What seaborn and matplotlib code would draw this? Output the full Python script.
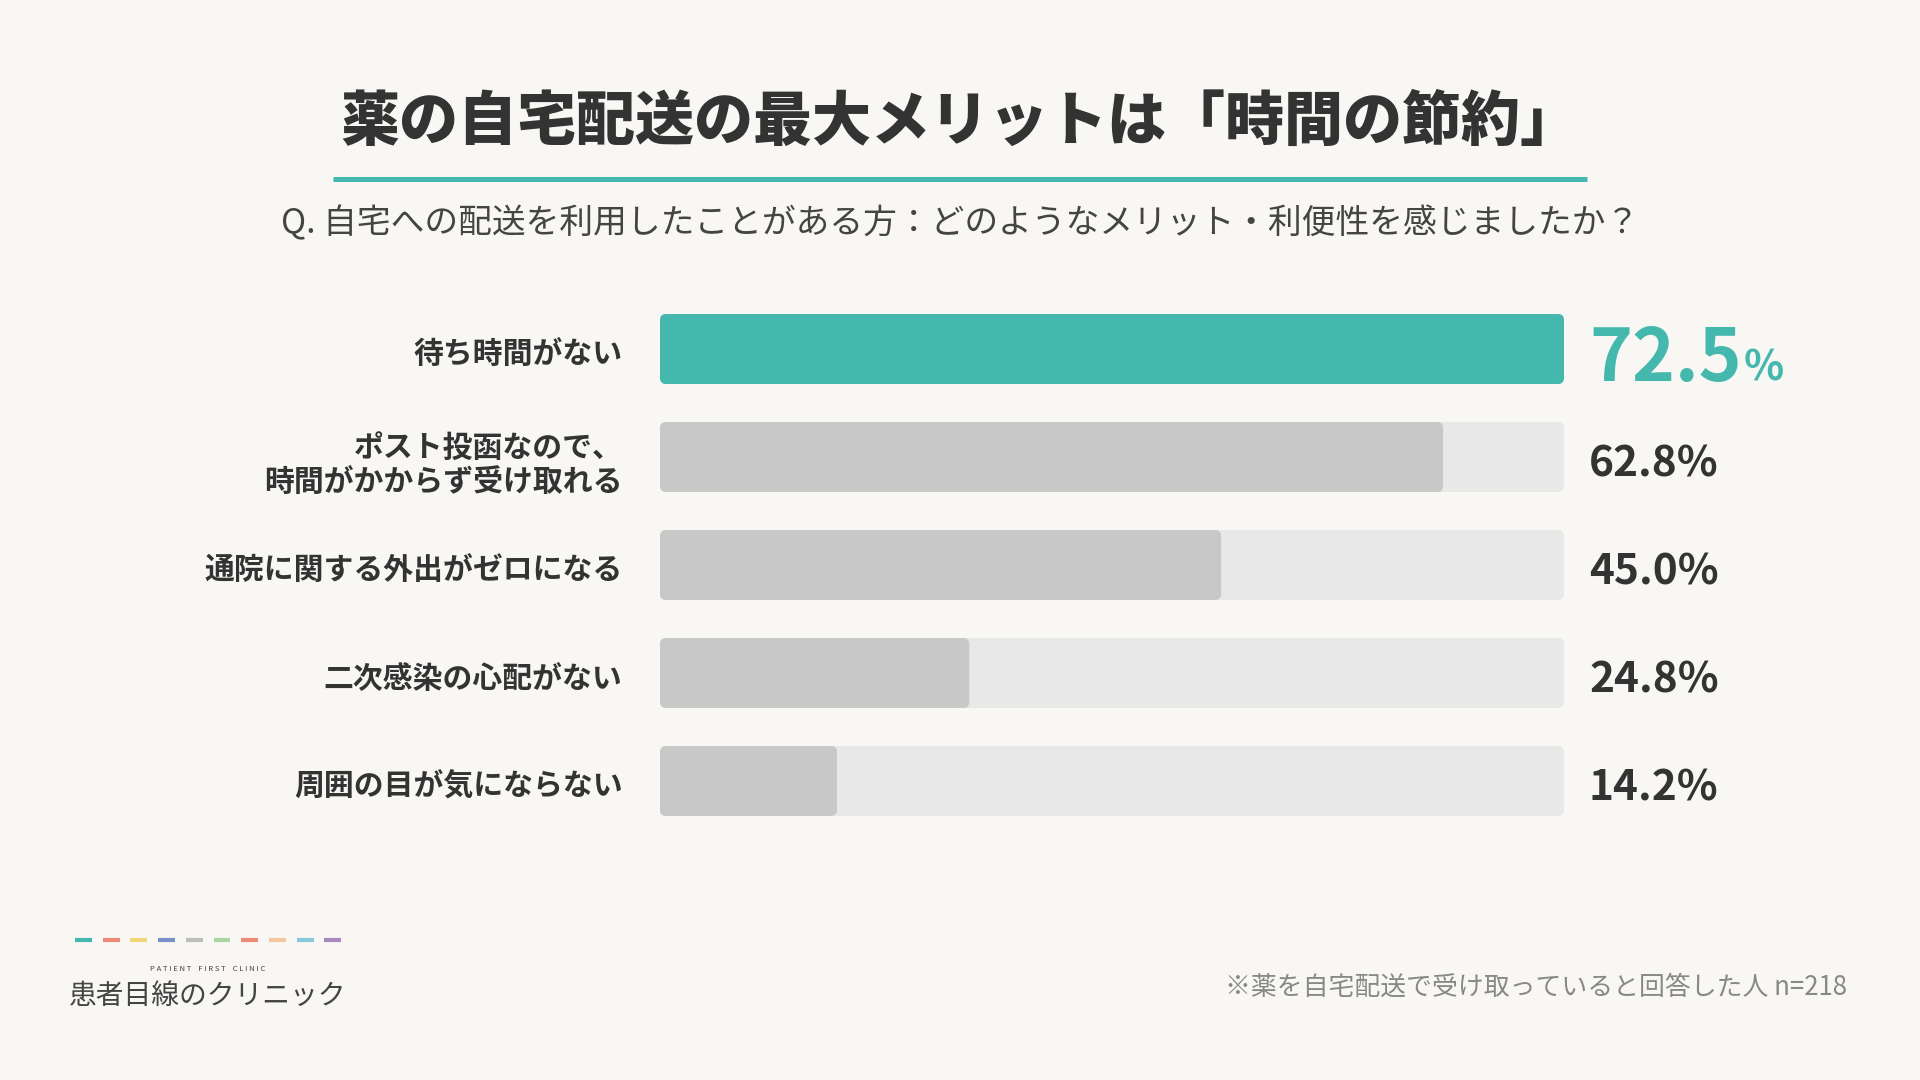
import matplotlib
matplotlib.use('Agg')
import matplotlib.pyplot as plt
import matplotlib.transforms as mtransforms
from matplotlib.patches import FancyBboxPatch
from matplotlib.lines import Line2D
import pandas as pd
import seaborn as sns

# chart data
categories = ['待ち時間がない',
              'ポスト投函なので、\n時間がかからず受け取れる',
              '通院に関する外出がゼロになる',
              '二次感染の心配がない',
              '周囲の目が気にならない']
values = [72.5, 62.8, 45.0, 24.8, 14.2]

title = '薬の自宅配送の最大メリットは「時間の節約」'
subtitle = 'Q. 自宅への配送を利用したことがある方：どのようなメリット・利便性を感じましたか？'
note = '※薬を自宅配送で受け取っていると回答した人 n=218'
logo_small = 'P A T I E N T    F I R S T    C L I N I C'
logo_name = '患者目線のクリニック'
logo_colors = ['#45B8AE', '#EE8A78', '#F0D678', '#7B8FC8', '#BDBDBD',
               '#A8D5A0', '#EE8A78', '#F5C6A0', '#88C8D8', '#A888C0']

BG = '#F9F7F4'
TEAL = '#45B8AE'
GRAY = '#C8C8C8'
TRACK = '#E8E8E8'
DARK = '#333333'

sns.set_theme(style='white')
plt.rcParams['font.family'] = ['Noto Sans CJK JP', 'DejaVu Sans']

df = pd.DataFrame({'item': categories, 'value': values})
df['track'] = max(values)

fig = plt.figure(figsize=(19.2, 10.8), dpi=100, facecolor=BG)
ax = fig.add_axes([660 / 1920, 1 - 835 / 1080, 904 / 1920, 540 / 1080])
ax.set_facecolor(BG)

# background track, then the value bars
sns.barplot(data=df, y='item', x='track', color=TRACK, width=0.648,
            saturation=1, errorbar=None, orient='h', ax=ax)
n_track = len(ax.patches)
bar_colors = [TEAL] + [GRAY] * (len(values) - 1)
sns.barplot(data=df, y='item', x='value', hue='item', palette=bar_colors,
            width=0.648, saturation=1, errorbar=None, orient='h',
            legend=False, ax=ax)

ax.set_xlim(0, max(values))
ax.set_ylim(len(values) - 0.5, -0.5)

# swap plain rectangles for rounded ones
px_x = ax.transData.transform((1, 0))[0] - ax.transData.transform((0, 0))[0]
px_y = abs(ax.transData.transform((0, 1))[1] - ax.transData.transform((0, 0))[1])
aspect = px_x / px_y
r = 6 / px_x
for k, p in enumerate(list(ax.patches)):
    x, y, w, h = p.get_x(), p.get_y(), p.get_width(), p.get_height()
    fc = p.get_facecolor()
    p.remove()
    rr = min(r, w / 2)
    ax.add_patch(FancyBboxPatch((x, y), w, h,
                                boxstyle=f'round,pad=0,rounding_size={rr}',
                                mutation_aspect=aspect, facecolor=fc,
                                edgecolor='none', zorder=1 if k < n_track else 2))

for s in ax.spines.values():
    s.set_visible(False)
ax.set_xlabel('')
ax.set_ylabel('')
ax.set_xticks([])
ax.tick_params(axis='y', length=0, pad=27)
shift = mtransforms.ScaledTranslation(0, -3 / 100, fig.dpi_scale_trans)
for lbl in ax.get_yticklabels():
    lbl.set_fontsize(21.5)
    lbl.set_fontweight('bold')
    lbl.set_color(DARK)
    lbl.set_linespacing(1.2)
    lbl.set_transform(lbl.get_transform() + shift)

# value labels
off = mtransforms.offset_copy(ax.transData, fig=fig, x=25, y=0, units='dots')
big = None
for i, v in enumerate(values):
    if i == 0:
        big = ax.text(max(values), i + 0.296, f'{v:.1f}', transform=off,
                      fontsize=52.5, fontweight='bold', color=TEAL, va='baseline')
    else:
        ax.text(max(values), i + 0.185, f'{v:.1f}%', transform=off,
                fontsize=30.5, fontweight='bold', color=DARK, va='baseline')

fig.canvas.draw()
bb = big.get_window_extent()
base_y = ax.transData.transform((max(values), 0.296))[1]
fig.text((bb.x1 + 2) / 1920, base_y / 1080, '%', fontsize=30,
         fontweight='bold', color=TEAL, va='baseline')

# title block
fig.text(0.5, 1 - 122 / 1080, title, ha='center', va='center',
         fontsize=42.5, fontweight='black', color=DARK)
fig.add_artist(Line2D([333 / 1920, 1587 / 1920], [1 - 179 / 1080] * 2,
                      transform=fig.transFigure, color=TEAL, lw=3.6,
                      solid_capstyle='butt'))
fig.text(0.5, 1 - 224 / 1080, subtitle, ha='center', va='center',
         fontsize=24.3, color='#444444')

# footnote
fig.text(1847 / 1920, 1 - 987 / 1080, note, ha='right', va='center',
         fontsize=18.6, color='#888888')

# logo
for j, c in enumerate(logo_colors):
    x0 = (75 + j * 27.7) / 1920
    fig.add_artist(Line2D([x0, x0 + 17 / 1920], [1 - 940 / 1080] * 2,
                          transform=fig.transFigure, color=c, lw=3,
                          solid_capstyle='butt'))
fig.text(208 / 1920, 1 - 969 / 1080, logo_small, ha='center', va='center',
         fontsize=5.5, color='#444444')
fig.text(208 / 1920, 1 - 996 / 1080, logo_name, ha='center', va='center',
         fontsize=20, color='#444444')

fig.savefig('out.png', dpi=100, facecolor=BG)
